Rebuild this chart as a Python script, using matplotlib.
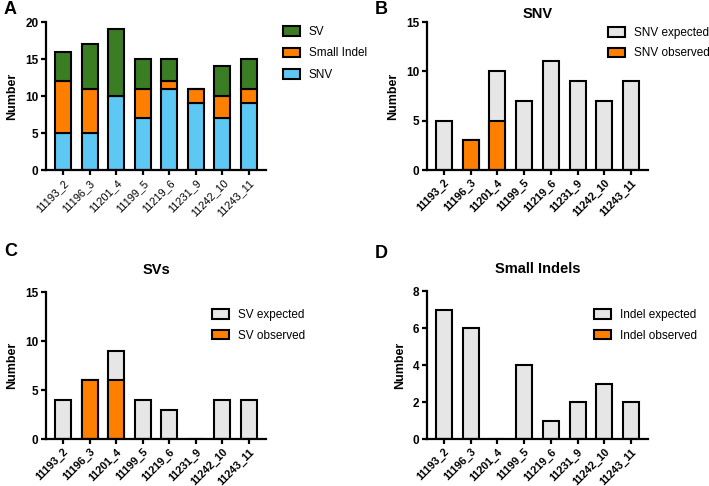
import matplotlib
matplotlib.use("Agg")
import matplotlib.pyplot as plt
from matplotlib.patches import Patch
import numpy as np

plt.rcParams['font.family'] = ['Liberation Sans', 'DejaVu Sans']

samples = ["11193_2", "11196_3", "11201_4", "11199_5", "11219_6", "11231_9", "11242_10", "11243_11"]

# panel A (stacked)
snv_counts = [5, 5, 10, 7, 11, 9, 7, 9]
indel_counts = [7, 6, 0, 4, 1, 2, 3, 2]
sv_counts = [4, 6, 9, 4, 3, 0, 4, 4]

# panels B-D: expected vs observed
snv_expected = [5, 3, 10, 7, 11, 9, 7, 9]
snv_observed = [0, 3, 5, 0, 0, 0, 0, 0]
sv_expected = [4, 6, 9, 4, 3, 0, 4, 4]
sv_observed = [0, 6, 6, 0, 0, 0, 0, 0]
indel_expected = [7, 6, 0, 4, 1, 2, 3, 2]
indel_observed = [0, 0, 0, 0, 0, 0, 0, 0]

GREEN = "#3b7d23"
ORANGE = "#ff8000"
BLUE = "#5ec8f4"
GREY = "#e6e6e6"

W, H = 709, 486
fig = plt.figure(figsize=(W / 100, H / 100), dpi=100)


def rect(l, t, r, b):
    return [l / W, 1 - b / H, (r - l) / W, (b - t) / H]


def style_axis(ax, ymax, step, bold_ticks):
    ax.set_xlim(-0.64, 7.64)
    ax.set_ylim(0, ymax)
    ax.set_yticks(np.arange(0, ymax + 1, step))
    ax.spines['top'].set_visible(False)
    ax.spines['right'].set_visible(False)
    ax.spines['left'].set_linewidth(1.6)
    ax.spines['bottom'].set_linewidth(1.6)
    ax.tick_params(width=1.6, length=3.5, pad=2, labelsize=8.5)
    ax.tick_params(axis='x', labelsize=7.8)
    ax.set_xticks(range(len(samples)))
    ax.set_xticklabels(samples, rotation=45, ha='right', rotation_mode='anchor',
                       fontweight='bold' if bold_ticks else 'normal')
    for lbl in ax.get_yticklabels():
        lbl.set_fontweight('bold')
    ax.set_ylabel("Number", fontweight='bold', fontsize=9, labelpad=5)


def add_legend(ax, items, left, top, spacing):
    handles = [Patch(facecolor=c, edgecolor='black', linewidth=1.5, label=l) for c, l in items]
    ax.legend(handles=handles, loc='upper left', bbox_to_anchor=(left / W, 1 - top / H),
              bbox_transform=fig.transFigure, frameon=False, fontsize=8.5,
              borderpad=0, borderaxespad=0, handlelength=1.45, handleheight=0.85,
              handletextpad=0.75, labelspacing=spacing)


x = np.arange(len(samples))
bw = 0.6
kw = dict(width=bw, edgecolor='black', linewidth=1.5)

# A
axA = fig.add_axes(rect(46, 22, 266, 170))
axA.bar(x, snv_counts, color=BLUE, **kw)
axA.bar(x, indel_counts, bottom=snv_counts, color=ORANGE, **kw)
axA.bar(x, sv_counts, bottom=np.add(snv_counts, indel_counts), color=GREEN, **kw)
style_axis(axA, 20, 5, False)
add_legend(axA, [(GREEN, "SV"), (ORANGE, "Small Indel"), (BLUE, "SNV")], 283, 26, 0.8)


def obs_panel(ax, expected, observed, ymax, step, title, labels, legend_xy, pad):
    ax.bar(x, expected, color=GREY, **kw)
    obs = np.array(observed)
    ax.bar(x[obs > 0], obs[obs > 0], color=ORANGE, **kw)
    style_axis(ax, ymax, step, True)
    ax.set_title(title, fontweight='bold', fontsize=10.5, pad=pad)
    add_legend(ax, [(GREY, labels[0]), (ORANGE, labels[1])], legend_xy[0], legend_xy[1], 0.72)


axB = fig.add_axes(rect(427, 22, 648, 170))
obs_panel(axB, snv_expected, snv_observed, 15, 5, "SNV", ["SNV expected", "SNV observed"], (608, 27), 3)

axC = fig.add_axes(rect(46, 292, 266, 439))
obs_panel(axC, sv_expected, sv_observed, 15, 5, "SVs", ["SV expected", "SV observed"], (212, 309), 13)

axD = fig.add_axes(rect(427, 291, 648, 439))
obs_panel(axD, indel_expected, indel_observed, 8, 2, "Small Indels", ["Indel expected", "Indel observed"], (594, 309), 13)

for letter, (px, py) in zip("ABCD", [(4, 9), (375, 9), (4, 252), (375, 254)]):
    fig.text(px / W, 1 - py / H, letter, fontsize=13, fontweight='bold', va='center', ha='left')

fig.savefig("out.png", dpi=100)
